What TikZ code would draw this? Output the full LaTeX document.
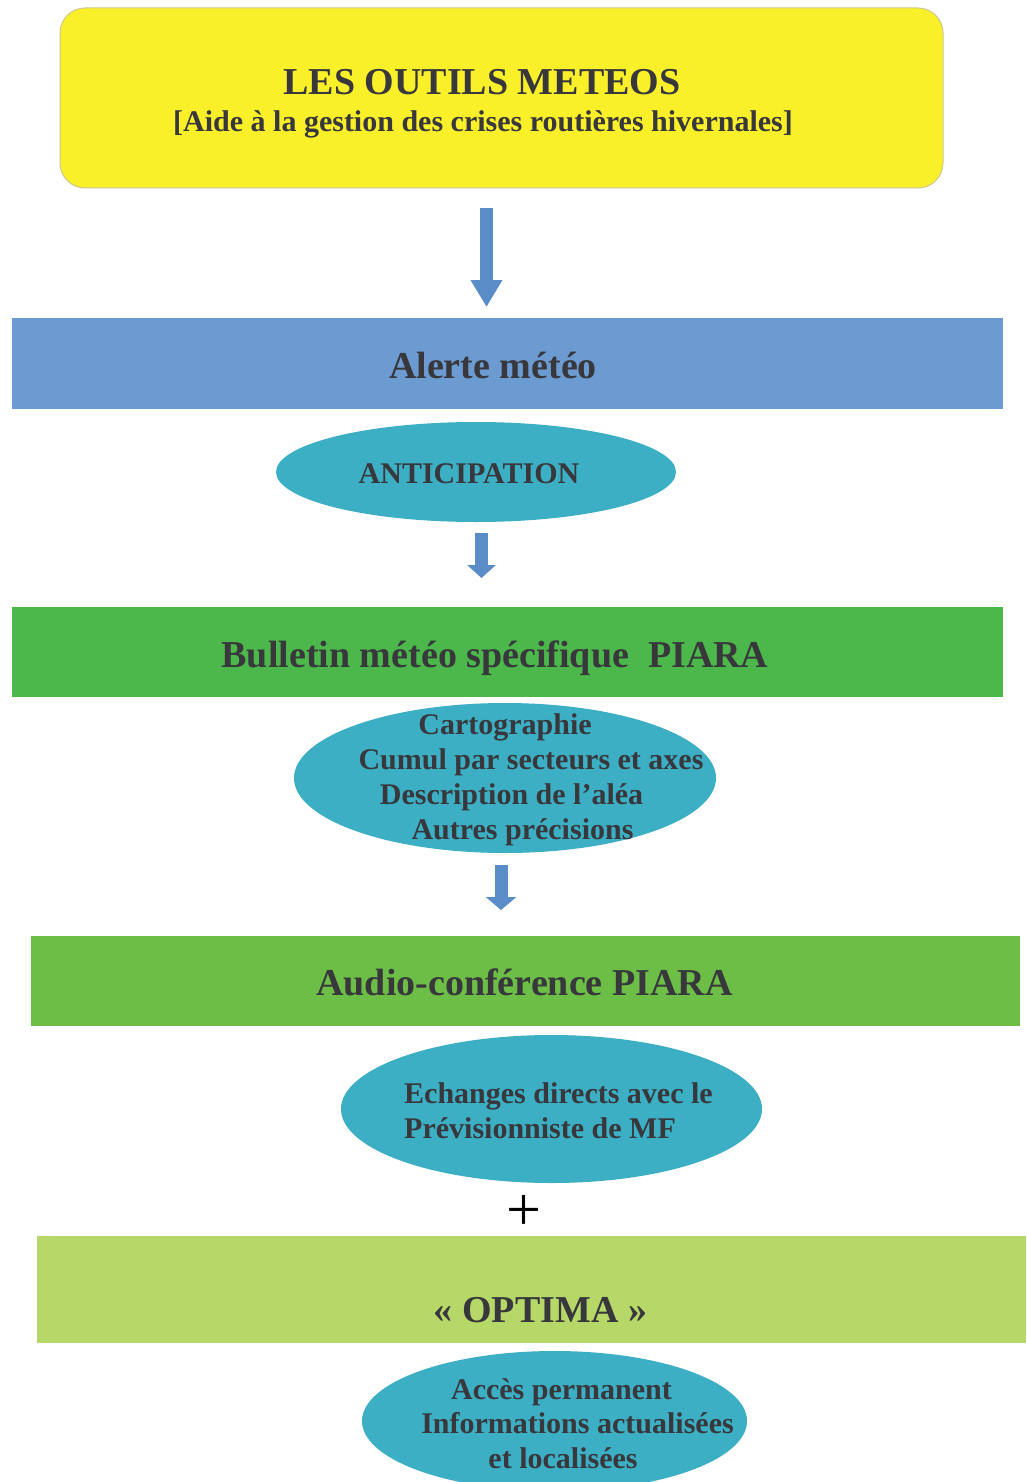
\documentclass[tikz,border=0pt]{standalone}
\usepackage{fontspec}
\setmainfont{Liberation Serif}
\usetikzlibrary{shapes.geometric,arrows.meta}
\definecolor{yel}{RGB}{250,240,42}
\definecolor{ybord}{RGB}{205,200,140}
\definecolor{bluebar}{RGB}{108,155,210}
\definecolor{greenA}{RGB}{76,184,75}
\definecolor{greenB}{RGB}{108,190,70}
\definecolor{greenC}{RGB}{182,216,104}
\definecolor{tealc}{RGB}{60,175,196}
\definecolor{arrowc}{RGB}{90,140,200}
\definecolor{txt}{RGB}{55,55,60}
\begin{document}
\begin{tikzpicture}[x=1pt,y=-1pt,
  bar/.style={rectangle, inner sep=0pt, draw=none},
  ell/.style={ellipse, fill=tealc, inner sep=0pt, draw=none},
  lbl/.style={text=txt, inner sep=0pt, font=\bfseries\fontsize{30}{35}\selectfont, text height=20pt, text depth=0pt},
  big/.style={lbl, font=\bfseries\fontsize{38}{44}\selectfont, text height=25pt},
  barrow/.style={draw=arrowc, line width=13pt}
]
\useasboundingbox (0,0) rectangle (1026,1482);
\clip (0,0) rectangle (1026,1482);
\fill[white] (0,0) rectangle (1026,1482);

% title
\node[draw=ybord, line width=1pt, fill=yel, rounded corners=25pt, minimum width=883pt, minimum height=180pt, inner sep=0pt] (title) at (501.5,98) {};
\node[big] (t1) at (482,82) {LES OUTILS METEOS};
\node[lbl] (t2) at (483,122) {[Aide à la gestion des crises routières hivernales]};

\coordinate (a1s) at (486.5,208);
\coordinate (a1e) at (486.5,307);
\draw[barrow, -{Triangle[width=30pt,length=27pt]}] (a1s) -- (a1e);

% alerte
\node[bar, fill=bluebar, minimum width=991pt, minimum height=91pt] (alerte) at (507.5,363.5) {};
\node[big] (alertet) at (493,366) {Alerte météo};

\node[ell, minimum width=400pt, minimum height=100pt] (antic) at (476,472) {};
\node[lbl] (antict) at (469,473) {ANTICIPATION};

\coordinate (a2s) at (481.5,533);
\coordinate (a2e) at (481.5,578);
\draw[barrow, -{Triangle[width=28pt,length=13pt]}] (a2s) -- (a2e);

% bulletin
\node[bar, fill=greenA, minimum width=991pt, minimum height=90pt] (bull) at (507.5,652) {};
\node[big] (bullt) at (495,655) {Bulletin météo spécifique\ \ PIARA};

\node[ell, minimum width=422pt, minimum height=150pt] (carto) at (505,778) {};
\node[lbl] (c1) at (505,724) {Cartographie};
\node[lbl] (c2) at (531,759) {Cumul par secteurs et axes};
\node[lbl] (c3) at (511.5,794) {Description de l’aléa};
\node[lbl] (c4) at (522.5,829) {Autres précisions};

\coordinate (a3s) at (501,865);
\coordinate (a3e) at (501,910);
\draw[barrow, -{Triangle[width=30pt,length=13pt]}] (a3s) -- (a3e);

% audio
\node[bar, fill=greenB, minimum width=989pt, minimum height=90pt] (audio) at (525.5,981) {};
\node[big] (audiot) at (524.5,983) {Audio-conférence PIARA};

\node[ell, minimum width=421pt, minimum height=148pt] (ech) at (551.5,1109) {};
\node[lbl, anchor=west] (e1) at (404,1093) {Echanges directs avec le};
\node[lbl, anchor=west] (e2) at (404,1128) {Prévisionniste de MF};

\node[text=black, inner sep=0pt, font=\fontsize{62}{64}\selectfont] (plus) at (524,1213) {+};

% optima
\node[bar, fill=greenC, minimum width=989pt, minimum height=107pt] (optima) at (531.5,1289.5) {};
\node[big] (optimat) at (540.5,1310) {« OPTIMA »};

\node[ell, minimum width=385pt, minimum height=140pt] (acces) at (554.5,1421) {};
\node[lbl] (o1) at (561.5,1389) {Accès permanent};
\node[lbl] (o2) at (577.5,1423) {Informations actualisées};
\node[lbl] (o3) at (563,1458) {et localisées};
\end{tikzpicture}
\end{document}
